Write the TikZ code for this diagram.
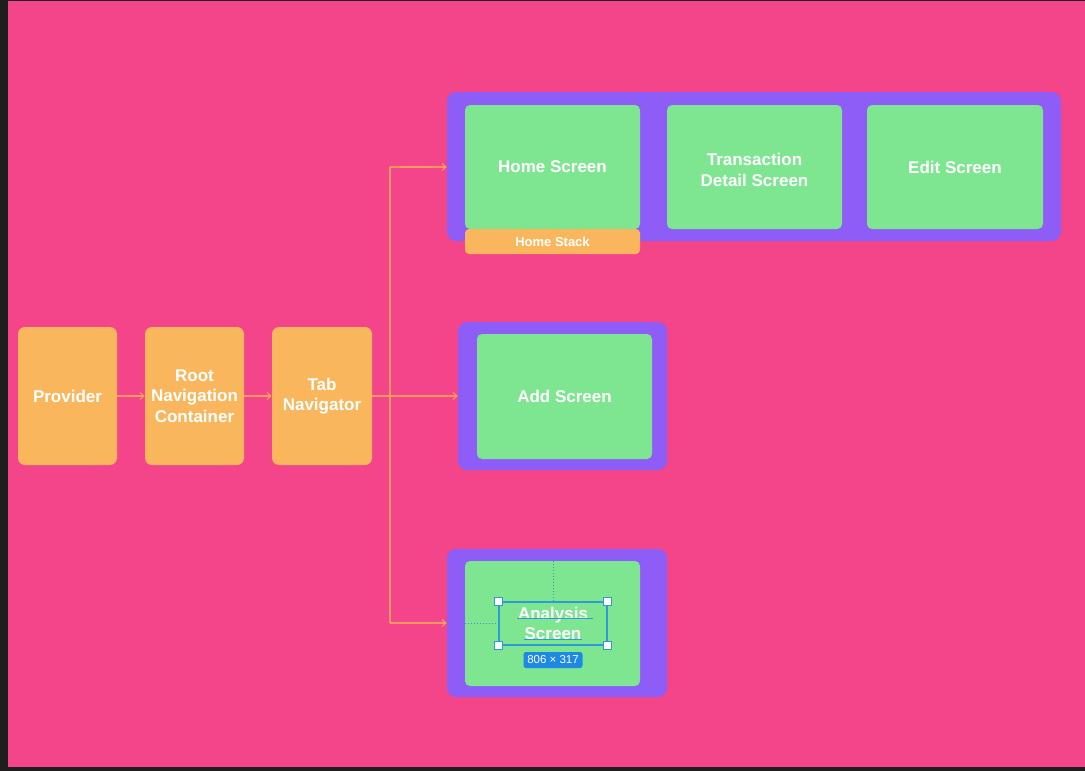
\documentclass[tikz,border=0pt]{standalone}
\usepackage{fontspec}
\setmainfont{Liberation Sans}
\usetikzlibrary{arrows.meta}
\definecolor{darkbg}{HTML}{1E1E1E}
\definecolor{pinkbg}{HTML}{F4448A}
\definecolor{orangebox}{HTML}{F9B65C}
\definecolor{purplebox}{HTML}{8E5CF7}
\definecolor{greenbox}{HTML}{7EE591}
\definecolor{wire}{HTML}{FA9A5E}
\definecolor{selblue}{HTML}{2E9BD6}
\definecolor{badge}{HTML}{1E88E5}
\tikzset{
  navbox/.style={fill=orangebox, rounded corners=7pt, draw=none, text=white, font=\bfseries\fontsize{17}{20.5}\selectfont, align=center},
  groupbox/.style={fill=purplebox, rounded corners=9pt, draw=none},
  screenbox/.style={fill=greenbox, rounded corners=5pt, draw=none, text=white, font=\bfseries\fontsize{17}{20.5}\selectfont, align=center},
  screentext/.style={text=white, font=\bfseries\fontsize{17}{20.5}\selectfont, align=center},
  wireline/.style={draw=wire, line width=1.1pt, -{Straight Barb[length=4pt,width=7pt]}},
  plainwire/.style={draw=wire, line width=1.1pt},
  handle/.style={draw=selblue, fill=white, line width=1pt, minimum size=7.5pt, inner sep=0pt},
  guide/.style={selblue, line width=1pt, dash pattern=on 1.5pt off 1.5pt},
}
\begin{document}
\begin{tikzpicture}[x=1pt,y=-1pt]
\useasboundingbox (0,0) rectangle (1085,771);
\fill[darkbg] (0,0) rectangle (1085,771);
\fill[pinkbg] (8,1) rectangle (1085,767);
% orange nav boxes
\node[navbox, minimum width=99pt, minimum height=138pt] (provider) at (67.5,396) {Provider};
\node[navbox, minimum width=99pt, minimum height=138pt] (root) at (194.5,396) {Root\\Navigation\\Container};
\node[navbox, minimum width=100pt, minimum height=138pt] (tab) at (322,396) {Tab\\Navigator};
% group boxes
\node[groupbox, minimum width=614pt, minimum height=149pt] (homegrp) at (754,166.5) {};
\node[groupbox, minimum width=209pt, minimum height=148pt] (addgrp) at (562.5,396) {};
\node[groupbox, minimum width=220pt, minimum height=148pt] (angrp) at (557,623) {};
% screens
\node[screenbox, minimum width=175pt, minimum height=124pt] (home) at (552.5,167) {Home Screen};
\node[screenbox, minimum width=175pt, minimum height=124pt] (detail) at (754.5,167) {};
\node[screentext] (detailtext) at (754.5,170) {Transaction\\Detail Screen};
\node[screenbox, minimum width=176pt, minimum height=124pt] (edit) at (955,167) {Edit Screen};
\node[fill=orangebox, rounded corners=4pt, minimum width=175pt, minimum height=25pt, text=white, font=\bfseries\fontsize{13}{15}\selectfont] (homestack) at (552.5,241.5) {Home Stack};
\node[screenbox, minimum width=175pt, minimum height=125pt] (add) at (564.5,396.5) {Add Screen};
\node[screenbox, minimum width=175pt, minimum height=125pt] (analysis) at (552.5,623.5) {};
% connectors
\coordinate (j) at (390,396);
\coordinate (jt) at (390,167);
\coordinate (jb) at (390,623);
\draw[wireline] (provider.east) -- (root.west);
\draw[wireline] (root.east) -- (tab.west);
\draw[wireline] (tab.east) -- (addgrp.west);
\draw[plainwire] (jt) -- (jb);
\draw[wireline] (jt) -- (homegrp.west |- jt);
\draw[wireline] (jb) -- (angrp.west |- jb);
% selection overlay on Analysis Screen
\node[draw=selblue, line width=1.3pt, minimum width=108pt, minimum height=43pt, inner sep=0pt] (sel) at (553,623.5) {};
\node[screentext] (antext) at (553,623.5) {Analysis\\Screen};
\draw[selblue, line width=1.2pt] (517,618.5) -- (593,618.5);
\draw[selblue, line width=1.2pt] (524,639.5) -- (582,639.5);
\draw[guide] (analysis.north -| sel.north) -- (sel.north);
\draw[guide] (analysis.west |- sel.west) -- (sel.west);
\node[handle] (h1) at (sel.north west) {};
\node[handle] (h2) at (sel.north east) {};
\node[handle] (h3) at (sel.south west) {};
\node[handle] (h4) at (sel.south east) {};
\node[fill=badge, rounded corners=2.5pt, text=white, font=\fontsize{11.5}{13}\selectfont, minimum width=59pt, minimum height=16pt, inner sep=0pt] (dims) at (553,660) {806 × 317};
\end{tikzpicture}
\end{document}
